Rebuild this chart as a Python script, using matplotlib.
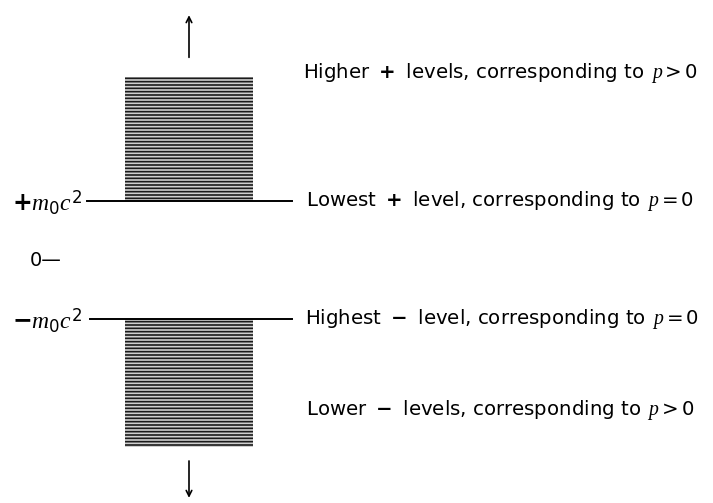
import matplotlib
matplotlib.use("Agg")
import matplotlib.pyplot as plt
from matplotlib.patches import Rectangle

plt.rcParams['mathtext.fontset'] = 'custom'
plt.rcParams['mathtext.rm'] = 'DejaVu Sans'
plt.rcParams['mathtext.it'] = 'Liberation Serif:italic'
plt.rcParams['mathtext.bf'] = 'DejaVu Sans:bold'
plt.rcParams['hatch.linewidth'] = 1.2

# energy levels in units of m0c^2
levels = [1.0, 0.0, -1.0]
level_labels = [r"$\mathbf{+}m_0c^2$", "0\u2014", r"$\mathbf{-}m_0c^2$"]
band_upper = (1.0, 3.1)     # continuum of + levels
band_lower = (-3.17, -1.0)  # continuum of - levels
arrow_upper = (3.39, 4.2)
arrow_lower = (-3.36, -4.08)

right_labels = [
    r"Higher $\;\mathbf{+}\;$ levels, corresponding to $\,p > 0$",
    r"Lowest $\;\mathbf{+}\;$ level, corresponding to $\,p = 0$",
    r"Highest $\;\mathbf{-}\;$ level, corresponding to $\,p = 0$",
    r"Lower $\;\mathbf{-}\;$ levels, corresponding to $\,p > 0$",
]
right_label_y = [3.18, 1.0, -1.0, -2.55]

fig = plt.figure(figsize=(7.13, 5.03), dpi=100)
ax = fig.add_axes([0, 0, 1, 1])
ax.set_xlim(0, 713)
ax.set_ylim(-4.12, 4.41)
ax.axis('off')

band_x0, band_x1 = 125, 253
for lo, hi in (band_upper, band_lower):
    ax.add_patch(Rectangle((band_x0, lo), band_x1 - band_x0, hi - lo,
                           facecolor='#cfcfcf', edgecolor='none'))
    ax.add_patch(Rectangle((band_x0, lo), band_x1 - band_x0, hi - lo,
                           facecolor='none', edgecolor='#1a1a1a', lw=0,
                           hatch='-----'))

# level lines
ax.plot([87, 292], [levels[0], levels[0]], color='black', lw=1.4)
ax.plot([90, 292], [levels[2], levels[2]], color='black', lw=1.4)

# arrows
xc = (band_x0 + band_x1) / 2
ax.annotate("", xy=(xc, arrow_upper[1]), xytext=(xc, arrow_upper[0]),
            arrowprops=dict(arrowstyle='->', lw=1.2, color='black'))
ax.annotate("", xy=(xc, arrow_lower[1]), xytext=(xc, arrow_lower[0]),
            arrowprops=dict(arrowstyle='->', lw=1.2, color='black'))

fs = 14.2
ax.text(82, levels[0] - 0.03, level_labels[0], ha='right', va='center', fontsize=17)
ax.text(30, levels[1], level_labels[1], ha='left', va='center', fontsize=14,
        family='DejaVu Sans')
ax.text(82, levels[2] - 0.03, level_labels[2], ha='right', va='center', fontsize=17)

xs = [303, 306, 305, 306]
for x, y, s in zip(xs, right_label_y, right_labels):
    ax.text(x, y, s, ha='left', va='center', fontsize=fs,
            family='DejaVu Sans')

fig.savefig("out.png", dpi=100)
